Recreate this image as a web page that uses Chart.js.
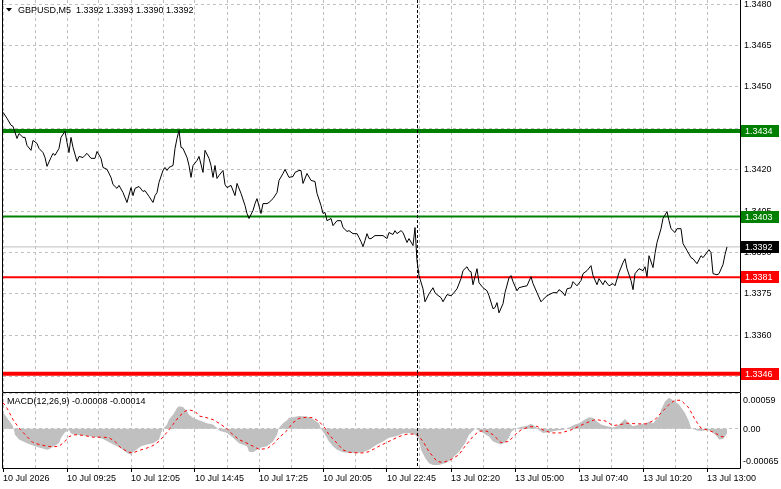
<!DOCTYPE html>
<html>
<head>
<meta charset="utf-8">
<script src="https://cdn.jsdelivr.net/npm/chart.js@4.4.1/dist/chart.umd.min.js"></script>
<style>
    html, body { margin: 0; padding: 0; background: #ffffff; }
    #wrap { position: relative; width: 781px; height: 489px; overflow: hidden; }
    canvas { position: absolute; left: 0; }
    #mainChart { top: 0; }
    #macdChart { top: 392px; }
</style>
</head>
<body>
<div id="wrap">
    <canvas id="mainChart" width="781" height="392"></canvas>
    <canvas id="macdChart" width="781" height="97"></canvas>
</div>
<script>
// price (close of M5 bars), bar index -> price
const priceBars = [0, 2, 4, 5, 7, 8, 10, 11, 12, 14, 15, 17, 18, 20, 21, 22, 24, 25, 26, 28, 29, 31, 32, 33, 34, 35, 37, 38, 40, 41, 42, 44, 46, 47, 49,
    50, 52, 54, 55, 57, 58, 60, 61, 62, 64, 65, 66, 68, 70, 71, 73, 75, 76, 77, 78, 80, 81, 82, 83, 85, 86, 87, 88, 89, 90, 92, 93, 94, 95, 97, 98,
    100, 101, 103, 104, 105, 106, 107, 108, 110, 111, 112, 114, 116, 117, 119, 121, 122, 123, 125, 126, 127, 129, 130, 132, 133, 135, 137, 138, 140,
    141, 143, 145, 146, 148, 149, 150, 152, 154, 156, 157, 159, 160, 161, 162, 164, 165, 167, 169, 170, 172, 173, 175, 177, 178, 179, 180, 181, 182,
    183, 184, 186, 190, 192, 193, 195, 196, 197, 199, 200, 202, 203, 205, 206, 207, 208, 210, 211, 213, 215, 216, 217, 219, 220, 222, 224, 225, 227,
    229, 230, 232, 233, 234, 235, 237, 238, 240, 242, 243, 245, 246, 247, 248, 250, 251, 253, 254, 255, 257, 258, 260, 262, 264, 265, 267, 269, 270,
    272, 275, 277, 278, 280, 281, 282, 284, 285, 287, 289, 290, 292, 294, 295, 297, 298, 300, 301, 303, 305, 306, 308, 310, 311, 312, 314, 315, 316,
    318, 320, 321, 322, 323, 325, 326, 327, 329, 330, 332, 333, 334, 336, 337, 339, 340, 342, 344, 345, 347, 349, 350, 353, 354, 355, 357, 358, 360,
    361, 362];
const priceValues = [1.34408, 1.34386, 1.34361, 1.34357, 1.34313, 1.34331, 1.34317, 1.34317, 1.34288, 1.34270, 1.34306, 1.34295, 1.34277, 1.34262,
    1.34244, 1.34212, 1.34244, 1.34259, 1.34252, 1.34277, 1.34317, 1.34339, 1.34299, 1.34262, 1.34317, 1.34281, 1.34230, 1.34248, 1.34244, 1.34252,
    1.34259, 1.34241, 1.34241, 1.34266, 1.34241, 1.34208, 1.34201, 1.34172, 1.34146, 1.34132, 1.34143, 1.34117, 1.34099, 1.34081, 1.34135, 1.34106,
    1.34132, 1.34139, 1.34121, 1.34124, 1.34103, 1.34081, 1.34106, 1.34117, 1.34154, 1.34197, 1.34208, 1.34197, 1.34208, 1.34215, 1.34277, 1.34313,
    1.34342, 1.34281, 1.34277, 1.34244, 1.34215, 1.34172, 1.34215, 1.34233, 1.34248, 1.34190, 1.34270, 1.34241, 1.34215, 1.34172, 1.34215, 1.34168,
    1.34179, 1.34197, 1.34146, 1.34135, 1.34143, 1.34106, 1.34150, 1.34114, 1.34070, 1.34041, 1.34023, 1.34052, 1.34077, 1.34095, 1.34041, 1.34077,
    1.34077, 1.34081, 1.34095, 1.34117, 1.34161, 1.34186, 1.34201, 1.34172, 1.34175, 1.34190, 1.34197, 1.34197, 1.34150, 1.34186, 1.34161, 1.34157,
    1.34114, 1.34070, 1.34041, 1.34045, 1.34015, 1.34023, 1.33997, 1.34015, 1.34015, 1.33990, 1.33976, 1.33979, 1.33968, 1.33968, 1.33954, 1.33939,
    1.33921, 1.33943, 1.33968, 1.33950, 1.33950, 1.33961, 1.33961, 1.33950, 1.33972, 1.33965, 1.33979, 1.33968, 1.33979, 1.33972, 1.33936, 1.33950,
    1.33925, 1.33990, 1.33870, 1.33816, 1.33768, 1.33721, 1.33750, 1.33772, 1.33754, 1.33747, 1.33736, 1.33721, 1.33747, 1.33743, 1.33750, 1.33768,
    1.33805, 1.33834, 1.33848, 1.33834, 1.33830, 1.33783, 1.33841, 1.33790, 1.33772, 1.33761, 1.33743, 1.33696, 1.33700, 1.33718, 1.33681, 1.33714,
    1.33754, 1.33808, 1.33816, 1.33794, 1.33761, 1.33772, 1.33776, 1.33779, 1.33812, 1.33787, 1.33754, 1.33721, 1.33729, 1.33743, 1.33754, 1.33754,
    1.33765, 1.33754, 1.33743, 1.33768, 1.33772, 1.33794, 1.33779, 1.33798, 1.33823, 1.33834, 1.33852, 1.33816, 1.33783, 1.33805, 1.33783, 1.33798,
    1.33779, 1.33787, 1.33779, 1.33827, 1.33863, 1.33877, 1.33841, 1.33798, 1.33765, 1.33823, 1.33841, 1.33834, 1.33848, 1.33812, 1.33888, 1.33845,
    1.33896, 1.33936, 1.33986, 1.34023, 1.34048, 1.34015, 1.33986, 1.33972, 1.33986, 1.33986, 1.33932, 1.33907, 1.33881, 1.33877, 1.33859, 1.33888,
    1.33881, 1.33910, 1.33899, 1.33823, 1.33819, 1.33823, 1.33856, 1.33892, 1.33920];

// support / resistance levels and the current bid
const levelPrices = [1.3434, 1.3403, 1.3381, 1.3346];
const bidPrice = 1.3392;

// MACD(12,26,9): histogram and signal line
const histBars = [0, 2, 4, 5, 6, 8, 12, 15, 18, 22, 23, 25, 28, 29, 31, 33, 34, 37, 42, 47, 50, 54, 57, 60, 62, 64, 65, 67, 69, 72, 75, 78, 79, 80,
    82, 83, 85, 87, 88, 90, 92, 93, 95, 98, 102, 105, 107, 108, 112, 115, 118, 122, 123, 125, 127, 128, 132, 135, 137, 138, 140, 142, 143, 145, 148,
    152, 155, 158, 159, 161, 163, 165, 167, 170, 173, 177, 180, 183, 187, 190, 193, 197, 200, 203, 206, 208, 209, 211, 213, 215, 218, 222, 225, 228,
    231, 233, 236, 238, 240, 243, 245, 248, 249, 251, 253, 254, 256, 258, 262, 264, 266, 268, 270, 273, 277, 280, 283, 286, 288, 291, 293, 295, 297,
    299, 302, 305, 307, 309, 311, 313, 315, 318, 321, 323, 325, 328, 329, 331, 333, 334, 336, 338, 341, 343, 344, 347, 349, 352, 354, 357, 358, 360,
    362];
const histValues = [0.00027, 0.00018, 0.00009, 0.00004, -0.00010, -0.00018, -0.00024, -0.00028, -0.00031, -0.00035, -0.00034, -0.00030, -0.00024,
    -0.00015, -0.00006, -0.00002, -0.00008, -0.00010, -0.00012, -0.00014, -0.00017, -0.00024, -0.00029, -0.00035, -0.00040, -0.00043, -0.00039,
    -0.00034, -0.00029, -0.00026, -0.00024, -0.00018, -0.00007, 0.00000, 0.00007, 0.00015, 0.00023, 0.00034, 0.00037, 0.00036, 0.00029, 0.00023,
    0.00018, 0.00014, 0.00009, 0.00007, 0.00001, -0.00003, -0.00007, -0.00015, -0.00024, -0.00029, -0.00038, -0.00039, -0.00035, -0.00032, -0.00029,
    -0.00021, -0.00010, 0.00001, 0.00009, 0.00014, 0.00018, 0.00019, 0.00021, 0.00020, 0.00016, 0.00009, 0.00000, -0.00010, -0.00021, -0.00029,
    -0.00035, -0.00039, -0.00040, -0.00040, -0.00039, -0.00035, -0.00026, -0.00021, -0.00015, -0.00012, -0.00008, -0.00007, -0.00010, -0.00018,
    -0.00035, -0.00048, -0.00057, -0.00060, -0.00060, -0.00056, -0.00048, -0.00038, -0.00024, -0.00010, 0.00000, -0.00003, -0.00007, -0.00013,
    -0.00021, -0.00025, -0.00026, -0.00023, -0.00015, -0.00006, 0.00000, 0.00002, 0.00005, 0.00008, 0.00004, -0.00002, -0.00007, -0.00006, -0.00003,
    -0.00002, 0.00002, 0.00007, 0.00009, 0.00015, 0.00019, 0.00018, 0.00012, 0.00007, 0.00004, 0.00002, 0.00004, 0.00010, 0.00016, 0.00009, 0.00004,
    0.00007, 0.00008, 0.00012, 0.00009, 0.00020, 0.00031, 0.00045, 0.00051, 0.00049, 0.00045, 0.00040, 0.00026, 0.00012, 0.00001, -0.00003, -0.00004,
    -0.00002, -0.00004, -0.00013, -0.00018, -0.00017, -0.00008];

const signalBars = [0, 2, 5, 8, 12, 15, 18, 22, 25, 28, 31, 33, 36, 40, 45, 50, 53, 56, 59, 63, 65, 68, 72, 75, 78, 82, 85, 88, 91, 93, 96, 98, 102,
    105, 108, 112, 115, 118, 122, 125, 128, 132, 135, 138, 142, 145, 148, 152, 155, 158, 161, 163, 167, 170, 173, 177, 180, 183, 188, 193, 198, 202,
    207, 210, 213, 217, 220, 224, 228, 231, 235, 238, 242, 245, 249, 253, 256, 259, 263, 267, 270, 274, 279, 284, 288, 292, 296, 301, 305, 309, 312,
    317, 322, 326, 329, 333, 336, 339, 343, 346, 349, 353, 356, 359, 362];
const signalValues = [0.00043, 0.00034, 0.00015, 0.00001, -0.00013, -0.00023, -0.00026, -0.00029, -0.00030, -0.00029, -0.00021, -0.00013, -0.00010,
    -0.00011, -0.00014, -0.00014, -0.00015, -0.00021, -0.00032, -0.00039, -0.00040, -0.00036, -0.00032, -0.00028, -0.00021, -0.00006, 0.00007,
    0.00020, 0.00029, 0.00031, 0.00029, 0.00021, 0.00018, 0.00015, 0.00009, 0.00000, -0.00010, -0.00018, -0.00024, -0.00029, -0.00034, -0.00033,
    -0.00026, -0.00015, -0.00003, 0.00010, 0.00017, 0.00019, 0.00018, 0.00012, 0.00001, -0.00010, -0.00024, -0.00035, -0.00039, -0.00040, -0.00040,
    -0.00038, -0.00029, -0.00021, -0.00013, -0.00009, -0.00009, -0.00021, -0.00038, -0.00054, -0.00056, -0.00051, -0.00043, -0.00029, -0.00013,
    -0.00004, -0.00004, -0.00010, -0.00023, -0.00021, -0.00010, -0.00002, 0.00003, 0.00004, -0.00002, -0.00007, -0.00007, -0.00002, 0.00004, 0.00010,
    0.00015, 0.00013, 0.00005, 0.00007, 0.00009, 0.00008, 0.00008, 0.00015, 0.00026, 0.00040, 0.00047, 0.00047, 0.00034, 0.00015, 0.00001, -0.00003,
    -0.00007, -0.00013, -0.00014];

// axes
const priceTicks = [1.3345, 1.3360, 1.3375, 1.3390, 1.3405, 1.3420, 1.3435, 1.3450, 1.3465, 1.3480];
const macdTicks = [-0.00065, 0, 0.00059];
const timeLabels = ['10 Jul 2026', '10 Jul 09:25', '10 Jul 12:05', '10 Jul 14:45', '10 Jul 17:25', '10 Jul 20:05',
    '10 Jul 22:45', '13 Jul 02:20', '13 Jul 05:00', '13 Jul 07:40', '13 Jul 10:20', '13 Jul 13:00'];
const labelStep = 32;      // bars between time labels
const gridStep = 16;       // bars between vertical grid lines
const daySeparatorBar = 207;

const titleText = 'GBPUSD,M5  1.3392 1.3393 1.3390 1.3392';
const macdText = 'MACD(12,26,9) -0.00008 -0.00014';

// styling
const FONT = { family: "'Liberation Sans', Arial, sans-serif", size: 9 };
const FONT_CSS = "9px 'Liberation Sans', Arial, sans-serif";
const GRID_COLOR = '#c0c0c0';
const levelColors = ['#008000', '#008000', '#ff0000', '#ff0000'];
const levelWidths = [4, 2, 2, 4];
const X_MIN = 0;
const X_MAX = 368.5;

function toPoints(xs, ys)
{
    return xs.map((x, i) => ({ x: x, y: ys[i] }));
}

function gridTicks()
{
    const ticks = [];
    for (let v = 0; v < X_MAX - 8; v += gridStep)
    {
        ticks.push({ value: v });
    }
    return ticks;
}

// the plot area must keep its exact size, so no label padding is allowed
function fixWidth(s)
{
    s.width = 41;
    s.paddingTop = 0;
    s.paddingBottom = 0;
}

const framePlugin =
{
    id: 'frame',
    afterDraw(chart)
    {
        const ctx = chart.ctx;
        const a = chart.chartArea;
        const sep = chart.scales.x.getPixelForValue(daySeparatorBar);

        ctx.save();
        ctx.strokeStyle = '#000000';
        ctx.lineWidth = 1;
        ctx.setLineDash([3, 2]);
        ctx.beginPath();
        ctx.moveTo(Math.round(sep) + 0.5, a.top);
        ctx.lineTo(Math.round(sep) + 0.5, a.bottom);
        ctx.stroke();

        ctx.setLineDash([]);
        ctx.beginPath();
        ctx.moveTo(a.left - 0.5, chart.options.frameTop ? a.top - 0.5 : 0);
        ctx.lineTo(a.left - 0.5, a.bottom + 0.5);
        ctx.lineTo(a.right + 0.5, a.bottom + 0.5);
        ctx.lineTo(a.right + 0.5, chart.options.frameTop ? a.top - 0.5 : 0);
        if (chart.options.frameTop)
        {
            ctx.lineTo(a.left - 0.5, a.top - 0.5);
        }
        ctx.stroke();
        ctx.restore();
    }
};

const priceTagPlugin =
{
    id: 'priceTags',
    afterDraw(chart)
    {
        const ctx = chart.ctx;
        const y = chart.scales.y;
        const a = chart.chartArea;
        const tags = levelPrices.map((p, i) => ({ price: p, color: levelColors[i] }));
        tags.push({ price: bidPrice, color: '#000000' });

        ctx.save();
        ctx.font = FONT_CSS;
        ctx.textBaseline = 'middle';
        ctx.textAlign = 'left';
        tags.forEach(t =>
        {
            const py = Math.round(y.getPixelForValue(t.price));
            ctx.fillStyle = t.color;
            ctx.fillRect(a.right + 1, py - 6, 38, 12);
            ctx.fillStyle = '#ffffff';
            ctx.fillText(t.price.toFixed(4), a.right + 5, py + 0.5);
        });

        // symbol header
        ctx.fillStyle = '#000000';
        ctx.beginPath();
        ctx.moveTo(6, 8);
        ctx.lineTo(12, 8);
        ctx.lineTo(9, 11.5);
        ctx.closePath();
        ctx.fill();
        ctx.fillText(titleText, 18, 10.5);
        ctx.restore();
    }
};

const macdLabelPlugin =
{
    id: 'macdLabels',
    afterDraw(chart)
    {
        const ctx = chart.ctx;
        const y = chart.scales.y;
        const a = chart.chartArea;

        ctx.save();
        ctx.font = FONT_CSS;
        ctx.textBaseline = 'middle';
        ctx.textAlign = 'left';
        ctx.fillStyle = '#000000';
        macdTicks.forEach(v =>
        {
            let py = y.getPixelForValue(v);
            py = Math.min(Math.max(py, a.top + 7), a.bottom - 7);
            ctx.fillText(v === 0 ? '0.00' : v.toFixed(5), a.right + 3, py + 0.5);
        });
        ctx.fillText(macdText, 7, a.top + 8.5);
        ctx.restore();
    }
};

const priceDatasets =
[
    {
        data: toPoints(priceBars, priceValues),
        borderColor: '#000000',
        borderWidth: 1,
        pointRadius: 0,
        tension: 0,
        order: 0
    },
    {
        data: toPoints([X_MIN, X_MAX], [bidPrice, bidPrice]),
        borderColor: GRID_COLOR,
        borderWidth: 1,
        pointRadius: 0,
        order: 2
    }
];

levelPrices.forEach((p, i) =>
{
    priceDatasets.push({
        data: toPoints([X_MIN, X_MAX], [p, p]),
        borderColor: levelColors[i],
        borderWidth: levelWidths[i],
        pointRadius: 0,
        order: 1
    });
});

const mainChart = new Chart(document.getElementById('mainChart'),
{
    type: 'line',
    data: { datasets: priceDatasets },
    options:
    {
        responsive: false,
        animation: false,
        events: [],
        frameTop: false,
        layout: { padding: { left: 3, top: 0, right: 0, bottom: 0 } },
        plugins: { legend: { display: false }, tooltip: { enabled: false } },
        scales:
        {
            x:
            {
                type: 'linear',
                min: X_MIN,
                max: X_MAX,
                afterBuildTicks: (s) => { s.ticks = gridTicks(); },
                afterFit: (s) => { s.height = 0; s.paddingLeft = 0; s.paddingRight = 0; },
                ticks: { display: false },
                grid: { color: GRID_COLOR, drawTicks: false },
                border: { display: false, dash: [3, 3] }
            },
            y:
            {
                position: 'right',
                min: 1.33394,
                max: 1.34815,
                afterBuildTicks: (s) => { s.ticks = priceTicks.map(v => ({ value: v })); },
                afterFit: fixWidth,
                ticks: { color: '#000000', font: FONT, padding: 4, callback: (v) => Number(v).toFixed(4) },
                grid: { color: GRID_COLOR, drawTicks: false },
                border: { display: false, dash: [3, 3] }
            }
        }
    },
    plugins: [framePlugin, priceTagPlugin]
});

const macdChart = new Chart(document.getElementById('macdChart'),
{
    type: 'line',
    data:
    {
        datasets:
        [
            {
                data: toPoints(signalBars, signalValues),
                borderColor: '#ff0000',
                borderWidth: 1,
                borderDash: [3, 3],
                pointRadius: 0,
                tension: 0,
                order: 0
            },
            {
                data: toPoints(histBars, histValues),
                borderWidth: 0,
                borderColor: 'rgba(0,0,0,0)',
                backgroundColor: '#c0c0c0',
                fill: 'origin',
                pointRadius: 0,
                tension: 0,
                order: 1
            }
        ]
    },
    options:
    {
        responsive: false,
        animation: false,
        events: [],
        frameTop: true,
        layout: { padding: { left: 3, top: 1, right: 0, bottom: 0 } },
        plugins: { legend: { display: false }, tooltip: { enabled: false }, filler: { propagate: false } },
        scales:
        {
            x:
            {
                type: 'linear',
                min: X_MIN,
                max: X_MAX,
                afterBuildTicks: (s) => { s.ticks = gridTicks(); },
                afterFit: (s) => { s.height = 21; s.paddingLeft = 0; s.paddingRight = 0; },
                ticks:
                {
                    color: '#000000',
                    font: FONT,
                    padding: 1,
                    align: 'start',
                    autoSkip: false,
                    maxRotation: 0,
                    minRotation: 0,
                    callback: (v) => (v % labelStep === 0 ? timeLabels[v / labelStep] : '')
                },
                grid:
                {
                    color: GRID_COLOR,
                    drawTicks: true,
                    tickLength: 4,
                    tickBorderDash: [1, 0],
                    tickColor: (c) => (c.tick && c.tick.value % labelStep === 0 ? '#000000' : 'rgba(0,0,0,0)')
                },
                border: { display: false, dash: [3, 3] }
            },
            y:
            {
                position: 'right',
                min: -0.00065,
                max: 0.00059,
                afterBuildTicks: (s) => { s.ticks = macdTicks.map(v => ({ value: v })); },
                afterFit: fixWidth,
                ticks: { display: false },
                grid: { color: GRID_COLOR, drawTicks: false },
                border: { display: false, dash: [3, 3] }
            }
        }
    },
    plugins: [framePlugin, macdLabelPlugin]
});
</script>
</body>
</html>
